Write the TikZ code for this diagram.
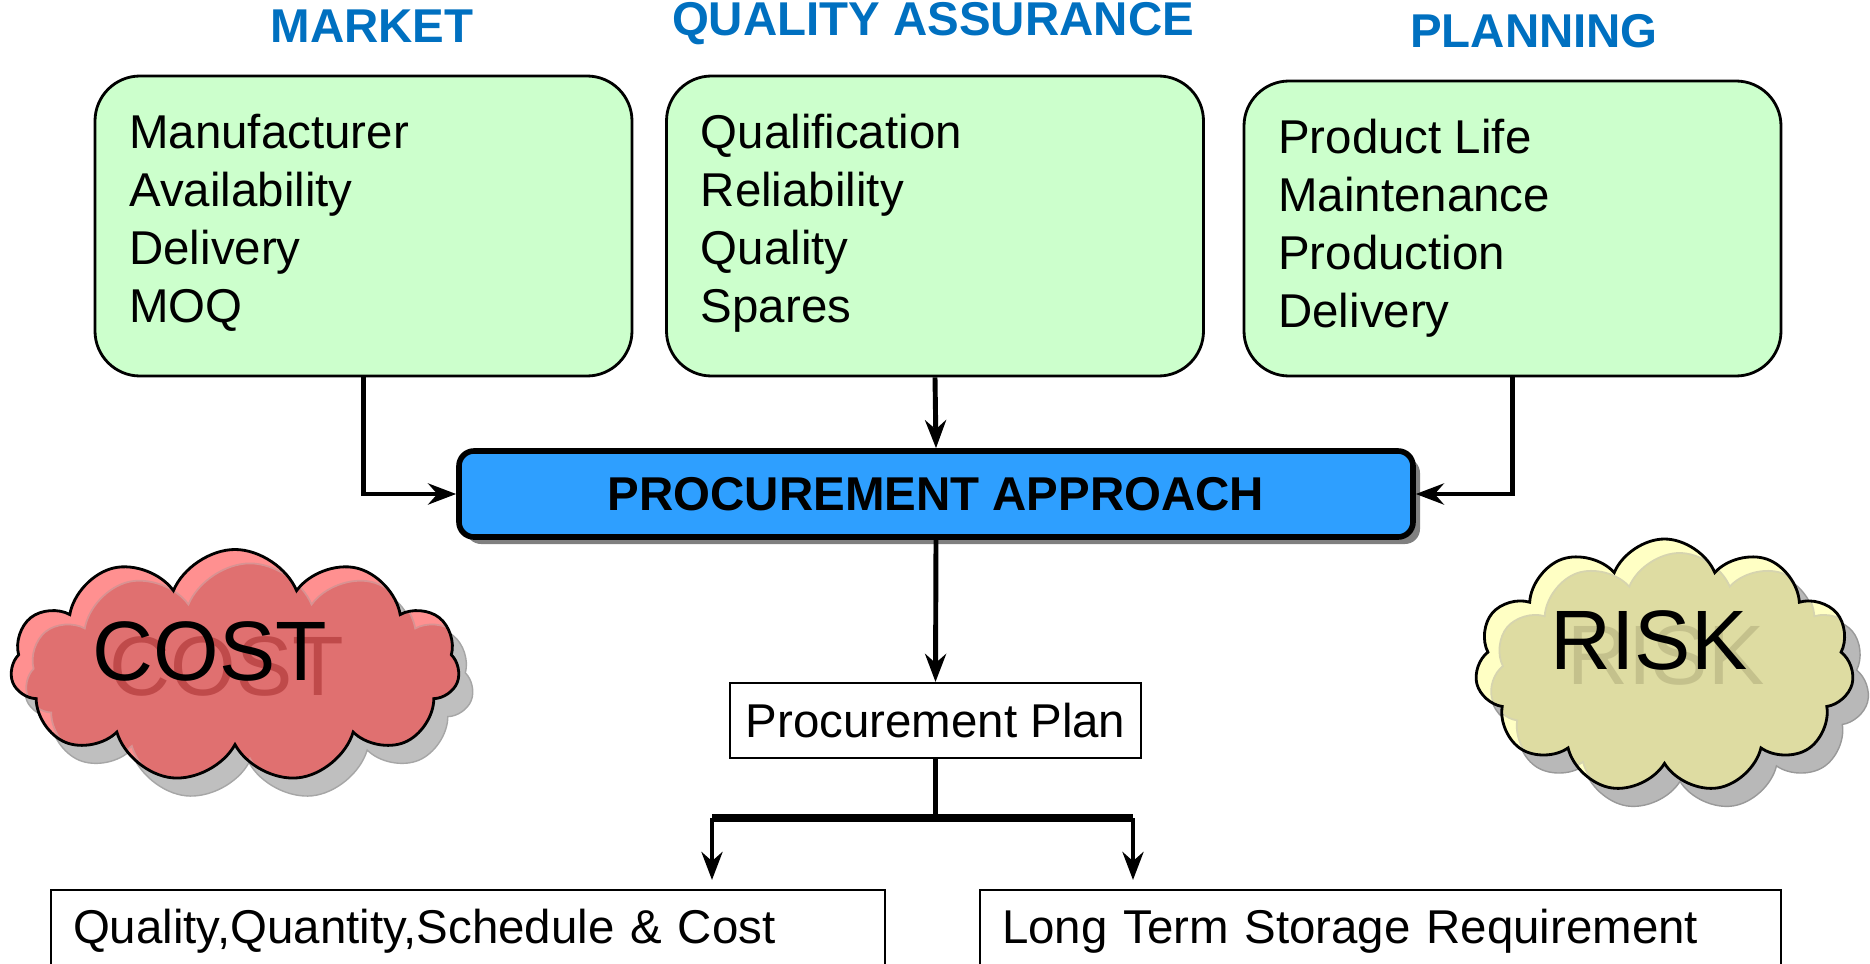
\documentclass[tikz,border=0pt]{standalone}
\usepackage{fontspec}
\setmainfont{Liberation Sans}
\usetikzlibrary{positioning,shapes.symbols,arrows.meta,shadows}
\definecolor{headblue}{HTML}{0070C0}
\definecolor{boxgreen}{HTML}{CCFFCC}
\definecolor{apprblue}{HTML}{2E9FFF}
\definecolor{costred}{HTML}{E07070}
\definecolor{costrim}{HTML}{FF9090}
\definecolor{costtext}{HTML}{BF4A4A}
\definecolor{riskyel}{HTML}{DEDCA2}
\definecolor{riskrim}{HTML}{FFFFC4}
\definecolor{risktext}{HTML}{C4C18C}

\begin{document}
\begin{tikzpicture}
\tikzstyle{head}=[font=\fontsize{13.5}{16}\selectfont\bfseries, text=headblue]
\tikzstyle{area}=[rectangle, rounded corners=4.5mm, draw=black, line width=0.8pt, fill=boxgreen, minimum width=5.37cm, minimum height=3cm]
\tikzstyle{list}=[align=left, inner sep=0pt, font=\fontsize{13.5}{16.5}\selectfont]
\tikzstyle{plain}=[rectangle, draw=black, line width=0.6pt, font=\fontsize{13.5}{16}\selectfont]
\tikzstyle{connect}=[-{Stealth[length=2.8mm,width=2.1mm]}, line width=1.4pt]
\tikzstyle{puff}=[cloud, cloud puffs=11, cloud puff arc=135, inner sep=0pt]
\tikzstyle{big}=[font=\fontsize{24}{28}\selectfont]
  \useasboundingbox (0,0) rectangle (18.7,9.63);
  \clip (0,0) rectangle (18.7,9.63);
  % three source boxes
  \node[area] (market) at (3.635,7.37) {};
  \node[area] (quality) at (9.35,7.37) {};
  \node[area, minimum height=2.95cm] (planning) at (15.125,7.345) {};
  \node[head] (hmarket) at (3.72,9.37) {MARKET};
  \node[head] (hquality) at (9.33,9.39) {QUALITY ASSURANCE};
  \node[head] (hplanning) at (15.34,9.32) {PLANNING};
  \node[list, below right=0.39cm and 0.35cm of market.north west] (lmarket) {Manufacturer\\Availability\\Delivery\\MOQ};
  \node[list, below right=0.39cm and 0.35cm of quality.north west] (lquality) {Qualification\\Reliability\\Quality\\Spares};
  \node[list, below right=0.39cm and 0.35cm of planning.north west] (lplanning) {Product Life\\Maintenance\\Production\\Delivery};
  % approach
  \node[rectangle, rounded corners=1.5mm, draw=black, line width=1.6pt, fill=apprblue,
        minimum width=9.54cm, minimum height=0.86cm, font=\fontsize{13.5}{16}\selectfont\bfseries,
        drop shadow={shadow xshift=0.07cm, shadow yshift=-0.07cm, fill=black!50, opacity=1}] (approach) at (9.36,4.69) {PROCUREMENT APPROACH};
  \path (market.south) edge [connect, to path={|- (\tikztotarget)}] (approach.west)
        (quality.south) edge [connect] (approach.north)
        (planning.south) edge [connect, to path={|- (\tikztotarget)}] (approach.east);
  % plan and its two outputs
  \node[plain, minimum width=4.11cm, minimum height=0.75cm] (plan) at (9.355,2.425) {Procurement Plan};
  \coordinate (split) at (9.355,1.45);
  \coordinate (bl) at (7.12,1.45);
  \coordinate (br) at (11.33,1.45);
  \coordinate (tl) at (7.12,0.83);
  \coordinate (tr) at (11.33,0.83);
  \draw[connect] (approach.south) -- (plan.north);
  \draw[line width=1.4pt] (plan.south) -- (split);
  \draw[line width=2.2pt] (bl) -- (br);
  \draw[connect] (bl) -- (tl);
  \draw[connect] (br) -- (tr);
  \node[plain, minimum width=8.34cm, minimum height=0.82cm, text width=7.9cm, align=left, inner xsep=0.22cm] (qqsc) at (4.68,0.32) {Quality,Quantity,Schedule \& Cost};
  \node[plain, minimum width=8.01cm, minimum height=0.82cm, text width=7.57cm, align=left, inner xsep=0.22cm] (storage) at (13.805,0.32) {Long Term Storage Requirement};
  % cost cloud
  \node[puff, fill=black!25, draw=black!35, minimum width=4.49cm, minimum height=2.33cm] (costshadow) at (2.49,2.79) {};
  \node[puff, fill=costrim, draw=black, line width=0.8pt, minimum width=4.49cm, minimum height=2.33cm,
        path picture={\node[puff, fill=costred, draw=costtext!60, line width=0.5pt, minimum width=4.49cm, minimum height=2.33cm] (costin) at ([shift={(0.15,-0.15)}]path picture bounding box.center) {};}] (cost) at (2.35,2.97) {};
  \node[big, text=costtext] (costshade) at (2.27,2.97) {COST};
  \node[big] (costlabel) at (2.10,3.12) {COST};
  % risk cloud
  \node[puff, fill=black!28, draw=black!40, minimum width=3.79cm, minimum height=2.54cm] (riskshadow) at (16.80,2.79) {};
  \node[puff, fill=riskrim, draw=black, line width=0.8pt, minimum width=3.79cm, minimum height=2.54cm,
        path picture={\node[puff, fill=riskyel, draw=risktext!70, line width=0.5pt, minimum width=3.79cm, minimum height=2.54cm] (riskin) at ([shift={(0.15,-0.15)}]path picture bounding box.center) {};}] (risk) at (16.645,2.97) {};
  \node[big, text=risktext] (riskshade) at (16.66,3.08) {RISK};
  \node[big] (risklabel) at (16.49,3.23) {RISK};
\end{tikzpicture}
\end{document}
